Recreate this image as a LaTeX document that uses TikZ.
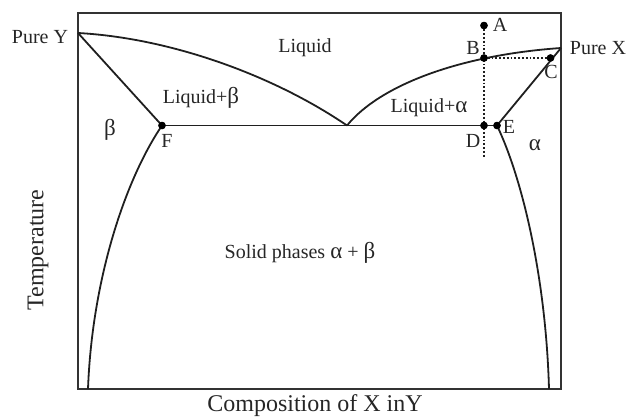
\documentclass[tikz,border=0pt]{standalone}
\usepackage{fontspec}
\setmainfont{Liberation Serif}
\newcommand{\gk}[1]{{\fontsize{23}{24}\selectfont #1}}
\begin{document}
\begin{tikzpicture}[x=1pt,y=-1pt,
  curve/.style={line width=1.8pt,draw=black!88},
  frame/.style={line width=2pt,draw=black!80},
  dotline/.style={line width=1.8pt,dotted,draw=black!88},
  pt/.style={circle,fill=black,inner sep=0pt,minimum size=7.5pt},
  lab/.style={font=\fontsize{20}{22}\selectfont,text=black!85,inner sep=0pt},
  axis/.style={font=\fontsize{24}{26}\selectfont,text=black!85,inner sep=0pt}]
\useasboundingbox (0,0) rectangle (632,418);
% frame
\draw[frame] (78,13) rectangle (561,389);
% key points
\coordinate (PY) at (78,33);
\coordinate (PX) at (561,48);
\coordinate (Eu) at (347,125.5);
\coordinate (Lb) at (88,389);
\coordinate (Rb) at (549,389);
\coordinate (Dend) at (484,157);
\node[pt] (F) at (162,125.5) {};
\node[pt] (E) at (497,125.5) {};
\node[pt] (D) at (484,125.5) {};
\node[pt] (B) at (484,58) {};
\node[pt] (A) at (484,25.5) {};
\node[pt] (C) at (550.5,58) {};
% dotted lines
\draw[dotline] (A.center) -- (Dend);
\draw[dotline] (B.center) -- (C.center);
% liquidus
\draw[curve] (PY) .. controls (170,38) and (273,75) .. (Eu);
\draw[curve] (Eu) .. controls (380,85) and (460,55) .. (PX);
% solidus
\draw[curve] (PY) -- (F.center);
\draw[curve] (PX) -- (E.center);
% eutectic line
\draw[curve] (F.center) -- (E.center);
% solvus
\draw[curve] (F.center) .. controls (125,180) and (92,280) .. (Lb);
\draw[curve] (E.center) .. controls (523,180) and (546,280) .. (Rb);
% redraw dots on top
\foreach \n in {F,E,D,B,A,C} \fill (\n) circle (3.7pt);
% labels
\node[lab] (lA) at (500,25) {A};
\node[lab] (lB) at (473,48) {B};
\node[lab] (lC) at (551,72) {C};
\node[lab] (lD) at (473,141) {D};
\node[lab] (lE) at (509,127) {E};
\node[lab] (lF) at (167,141) {F};
\node[lab] (pY) at (40,37) {Pure Y};
\node[lab] (pX) at (598,48) {Pure X};
\node[lab] (liq) at (305,48) {Liquid};
\node[lab] (lb) at (201,98) {Liquid+\gk{β}};
\node[lab] (la) at (429,108) {Liquid+\gk{α}};
\node[lab] (beta) at (110,130) {\gk{β}};
\node[lab] (alpha) at (535,145) {\gk{α}};
\node[lab] (sol) at (300,253) {Solid phases \gk{α} + \gk{β}};
\node[axis,rotate=90] (temp) at (38,250) {Temperature};
\node[axis] (comp) at (315,406) {Composition of X inY};
\end{tikzpicture}
\end{document}
